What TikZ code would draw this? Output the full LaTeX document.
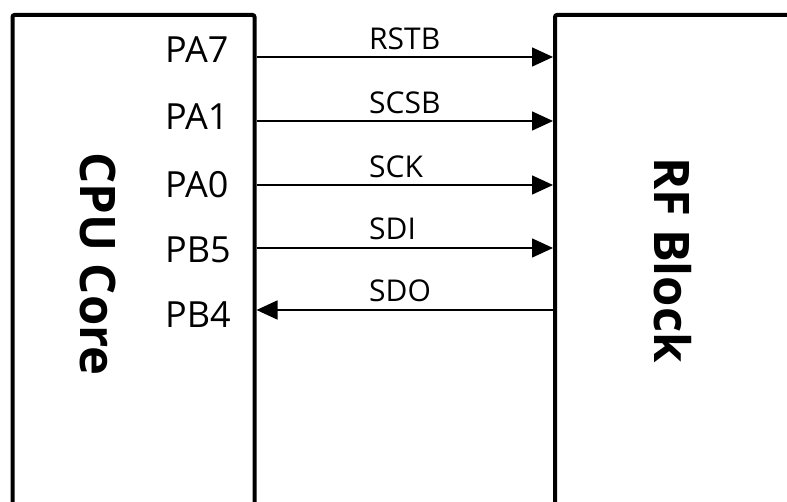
\documentclass[tikz,border=0pt]{standalone}
\usepackage{fontspec}
\setmainfont{Open Sans}
\usepackage{tikz}
\usetikzlibrary{arrows.meta,positioning,calc}
\tikzstyle{block} = [rectangle, rounded corners=2pt, draw=black, line width=4pt, fill=white]
\tikzstyle{sigR} = [line width=1.5pt, -{Triangle[length=21pt,width=19pt]}]
\tikzstyle{sigL} = [line width=1.5pt, {Triangle[length=21pt,width=19pt]}-]
\tikzstyle{pin} = [anchor=west, inner sep=0pt, font=\fontsize{36}{40}\selectfont]
\tikzstyle{siglabel} = [anchor=base west, inner sep=0pt, font=\fontsize{30}{34}\selectfont]
\tikzstyle{title} = [inner sep=0pt, rotate=-90, font=\fontsize{49}{54}\selectfont\bfseries]

\begin{document}
\begin{tikzpicture}[x=1pt, y=1pt]
    \useasboundingbox (0,0) rectangle (787,502);
    \clip (0,0) rectangle (787,502);

    % Blocks
    \node[block, minimum width=242pt, minimum height=507pt] (cpu) at (133.5,233.5) {};
    \node[block, minimum width=275pt, minimum height=507pt] (rf) at (692.5,233.5) {};
    \node[title] (cputitle) at (98,238) {CPU Core};
    \node[title] (rftitle) at (673,242) {RF Block};

    % Pins
    \node[pin] (pa7) at (165,452) {PA7};
    \node[pin] (pa1) at (165,385.5) {PA1};
    \node[pin] (pa0) at (165,317.5) {PA0};
    \node[pin] (pb5) at (165,252.5) {PB5};
    \node[pin] (pb4) at (165,187) {PB4};

    % Pin positions on the CPU edge
    \coordinate (rstb) at (cpu.east |- 0,445);
    \coordinate (scsb) at (cpu.east |- 0,381);
    \coordinate (sck) at (cpu.east |- 0,317);
    \coordinate (sdi) at (cpu.east |- 0,254);
    \coordinate (sdo) at (cpu.east |- 0,192);

    % Arrows
    \draw[sigR] (rstb) -- (rstb -| rf.west);
    \draw[sigR] (scsb) -- (scsb -| rf.west);
    \draw[sigR] (sck) -- (sck -| rf.west);
    \draw[sigR] (sdi) -- (sdi -| rf.west);
    \draw[sigL] (sdo) -- (sdo -| rf.west);

    % Signal names
    \node[siglabel] (rstblabel) at (369,452.5) {RSTB};
    \node[siglabel] (scsblabel) at (369,388.5) {SCSB};
    \node[siglabel] (scklabel) at (369,324.5) {SCK};
    \node[siglabel] (sdilabel) at (369,262) {SDI};
    \node[siglabel] (sdolabel) at (369,200) {SDO};
\end{tikzpicture}
\end{document}
